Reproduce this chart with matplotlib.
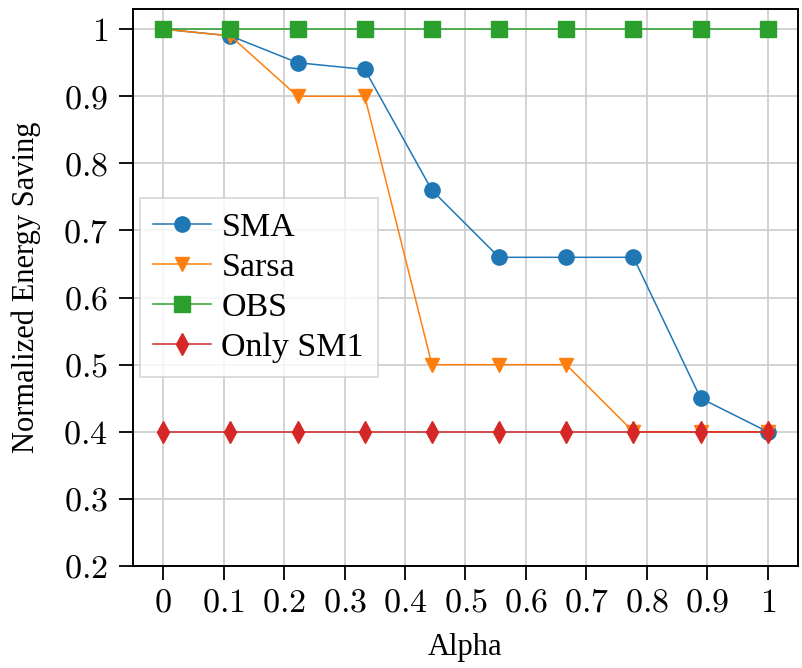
import numpy as np
import matplotlib
matplotlib.use('Agg')
import matplotlib.pyplot as plt

# data
alpha = [0, 1/9, 2/9, 3/9, 4/9, 5/9, 6/9, 7/9, 8/9, 1]
sma = [1.0, 0.99, 0.95, 0.94, 0.76, 0.66, 0.66, 0.66, 0.45, 0.40]
sarsa = [1.0, 0.99, 0.90, 0.90, 0.50, 0.50, 0.50, 0.40, 0.40, 0.40]
obs = [1.0, 1.0, 1.0, 1.0, 1.0, 1.0, 1.0, 1.0, 1.0, 1.0]
only_sm1 = [0.4, 0.4, 0.4, 0.4, 0.4, 0.4, 0.4, 0.4, 0.4, 0.4]
xticks = [0, 0.1, 0.2, 0.3, 0.4, 0.5, 0.6, 0.7, 0.8, 0.9, 1]
yticks = [0.2, 0.3, 0.4, 0.5, 0.6, 0.7, 0.8, 0.9, 1]

plt.rcParams['font.family'] = 'Liberation Serif'
plt.rcParams['mathtext.fontset'] = 'cm'

fig = plt.figure(figsize=(8.03, 6.68), dpi=100)
ax = fig.add_axes([0.1656, 0.1527, 0.8282, 0.8338])

ax.plot(alpha, sma, color='#1f77b4', marker='o', markersize=11, lw=1.1, label='SMA')
ax.plot(alpha, sarsa, color='#ff7f0e', marker='v', markersize=10, lw=1.1, label='Sarsa')
ax.plot(alpha, obs, color='#2ca02c', marker='s', markersize=11, lw=1.1, label='OBS')
ax.plot(alpha, only_sm1, color='#d62728', marker='d', markersize=11, lw=1.1, label='Only SM1')

ax.set_xlim(-0.05, 1.05)
ax.set_ylim(0.2, 1.03)
ax.set_xticks(xticks)
ax.set_xticklabels(['$%g$' % v for v in xticks])
ax.set_yticks(yticks)
ax.set_yticklabels(['$%g$' % v for v in yticks])
ax.tick_params(direction='out', length=10, width=1.3, labelsize=24.5)
ax.tick_params(axis='x', pad=6)
ax.tick_params(axis='y', pad=8)
for s in ax.spines.values():
    s.set_linewidth(1.4)
ax.grid(True, color='#cccccc', lw=1.2)
ax.set_axisbelow(True)

ax.set_xlabel('Alpha', fontsize=22, labelpad=10)
ax.set_ylabel('Normalized Energy Saving', fontsize=22, labelpad=16)

leg = ax.legend(loc='center left', bbox_to_anchor=(0.0, 0.5), fontsize=24.5,
                fancybox=False, edgecolor='#cccccc', handlelength=1.7,
                labelspacing=0.27, borderpad=0.4, handletextpad=0.3,
                borderaxespad=0.2)
leg.get_frame().set_linewidth(1.2)

fig.savefig('out.png', dpi=100)
